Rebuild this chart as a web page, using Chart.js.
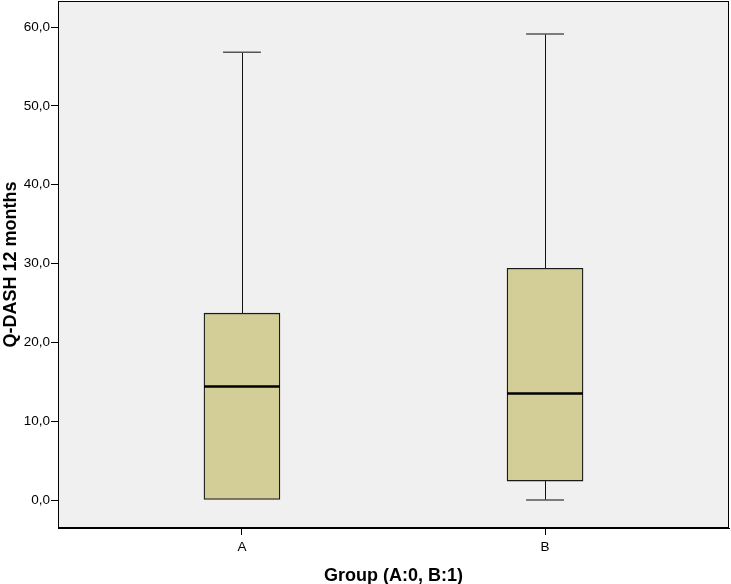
<!DOCTYPE html>
<html>
<head>
<meta charset="utf-8">
<script src="https://cdn.jsdelivr.net/npm/chart.js@4/dist/chart.umd.min.js"></script>
<style>
  body { margin: 0; background: #fff; }
  #wrap { width: 731px; height: 584px; }
</style>
</head>
<body>
<div id="wrap"><canvas id="box-chart" width="731" height="584"></canvas></div>
<script>
// boxplot values
const categories = ['A', 'B'];
const whiskerLow = [0, 0];
const q1 = [0, 2.4];
const median = [14.4, 13.5];
const q3 = [23.7, 29.4];
const whiskerHigh = [56.8, 59.1];
const yTicks = [0, 10, 20, 30, 40, 50, 60];

const boxWidth = 0.25;   // in x units
const capWidth = 0.125;

// grey plot area and frame
const plotFrame = {
    id: 'plotFrame',
    beforeDraw(chart) {
        const { ctx, chartArea: a } = chart;
        ctx.save();
        ctx.fillStyle = '#f0f0f0';
        ctx.fillRect(a.left, a.top, a.right - a.left, a.bottom - a.top);
        ctx.restore();
    },
    afterDraw(chart) {
        const { ctx, chartArea: a } = chart;
        ctx.save();
        ctx.strokeStyle = '#000';
        ctx.lineWidth = 1;
        ctx.strokeRect(a.left + 0.5, a.top + 0.5, a.right - a.left - 1, a.bottom - a.top - 1);
        ctx.restore();
    }
};

// whiskers, caps and medians drawn through the scales
const boxParts = {
    id: 'boxParts',
    beforeDatasetsDraw(chart) {
        const { ctx, scales: { x, y } } = chart;
        ctx.save();
        categories.forEach((c, i) => {
            const cx = Math.round(x.getPixelForValue(i)) + 0.5;
            const capL = x.getPixelForValue(i - capWidth / 2);
            const capR = x.getPixelForValue(i + capWidth / 2);
            ctx.strokeStyle = '#111';
            ctx.lineWidth = 1;
            ctx.beginPath();
            ctx.moveTo(cx, y.getPixelForValue(q3[i]));
            ctx.lineTo(cx, y.getPixelForValue(whiskerHigh[i]));
            if (whiskerLow[i] < q1[i]) {
                ctx.moveTo(cx, y.getPixelForValue(q1[i]));
                ctx.lineTo(cx, y.getPixelForValue(whiskerLow[i]));
            }
            ctx.stroke();
            ctx.strokeStyle = '#555';
            ctx.lineWidth = 1.5;
            ctx.beginPath();
            ctx.moveTo(capL, y.getPixelForValue(whiskerHigh[i]));
            ctx.lineTo(capR, y.getPixelForValue(whiskerHigh[i]));
            if (whiskerLow[i] < q1[i]) {
                ctx.moveTo(capL, y.getPixelForValue(whiskerLow[i]));
                ctx.lineTo(capR, y.getPixelForValue(whiskerLow[i]));
            }
            ctx.stroke();
        });
        ctx.restore();
    },
    afterDatasetsDraw(chart) {
        const { ctx, scales: { x, y } } = chart;
        ctx.save();
        ctx.strokeStyle = '#000';
        ctx.lineWidth = 2.5;
        categories.forEach((c, i) => {
            const my = y.getPixelForValue(median[i]);
            ctx.beginPath();
            ctx.moveTo(x.getPixelForValue(i - boxWidth / 2), my);
            ctx.lineTo(x.getPixelForValue(i + boxWidth / 2), my);
            ctx.stroke();
        });
        ctx.restore();
    }
};

const ctx = document.getElementById('box-chart').getContext('2d');
new Chart(ctx, {
    type: 'bar',
    data: {
        datasets: [{
            data: categories.map((c, i) => ({ x: i, y: [q1[i], q3[i]] })),
            backgroundColor: '#d3ce98',
            borderColor: '#1a1a1a',
            borderWidth: 1.3,
            borderSkipped: false,
            barThickness: 76
        }]
    },
    options: {
        responsive: false,
        animation: false,
        layout: { padding: { top: 1, right: 2, left: 0, bottom: 0 } },
        plugins: {
            legend: { display: false },
            tooltip: { enabled: false }
        },
        scales: {
            x: {
                type: 'linear',
                offset: false,
                min: -0.607,
                max: 1.607,
                afterBuildTicks: s => { s.ticks = categories.map((c, i) => ({ value: i })); },
                afterFit: s => { s.height = 56; s.paddingLeft = 0; s.paddingRight = 0; },
                ticks: {
                    callback: v => categories[v],
                    color: '#000',
                    font: { family: 'Liberation Sans, Arial, sans-serif', size: 13.5 },
                    padding: 4
                },
                grid: { offset: false, drawOnChartArea: false, drawTicks: true, tickLength: 7, color: '#000' },
                border: { display: true, color: '#000' },
                title: {
                    display: true,
                    text: 'Group (A:0, B:1)',
                    color: '#000',
                    font: { family: 'Liberation Sans, Arial, sans-serif', size: 18, weight: 'bold' },
                    padding: { top: 11, bottom: -3 }
                }
            },
            y: {
                min: -3.55,
                max: 63.3,
                afterBuildTicks: s => { s.ticks = yTicks.map(v => ({ value: v })); },
                afterFit: s => { s.width = 58; s.paddingTop = 0; s.paddingBottom = 0; },
                ticks: {
                    callback: v => v.toFixed(1).replace('.', ','),
                    color: '#000',
                    font: { family: 'Liberation Sans, Arial, sans-serif', size: 13.5 },
                    padding: 1
                },
                grid: { drawOnChartArea: false, drawTicks: true, tickLength: 7, color: '#000' },
                border: { display: true, color: '#000' },
                title: {
                    display: true,
                    text: 'Q-DASH 12 months',
                    color: '#000',
                    font: { family: 'Liberation Sans, Arial, sans-serif', size: 18, weight: 'bold' },
                    padding: { top: 0, bottom: 0 }
                }
            }
        }
    },
    plugins: [plotFrame, boxParts]
});
</script>
</body>
</html>
